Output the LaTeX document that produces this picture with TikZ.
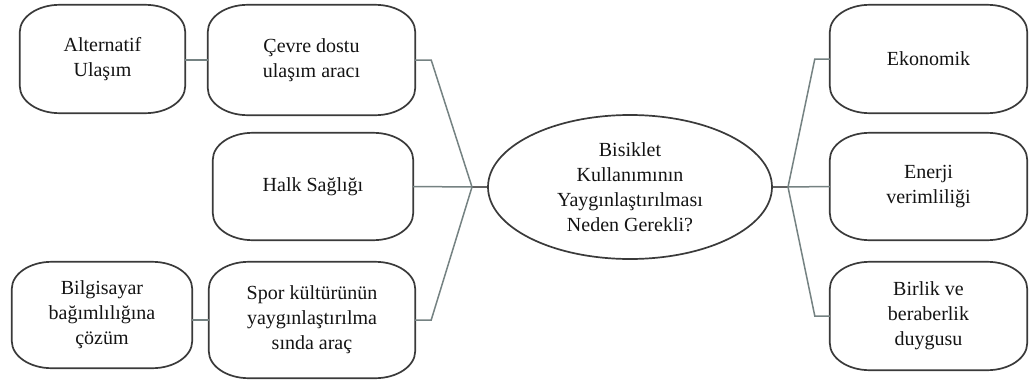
\documentclass[tikz,border=0pt]{standalone}
\usepackage{fontspec}
\setmainfont{Liberation Serif}
\newfontfamily\timesface{Liberation Serif}
\usetikzlibrary{calc,shapes.geometric}
\definecolor{linkgray}{HTML}{758282}
\definecolor{edgegray}{HTML}{3A3A3A}
\tikzset{
  label font/.style={font=\timesface\fontsize{20}{25}\selectfont, text=black!92},
  box/.style={draw=none, inner sep=0pt, align=center, label font},
  boxline/.style={draw=edgegray, line width=1.7pt},
  link/.style={draw=linkgray, line width=1.5pt},
}
% outline with elliptical corners around a named node
\newcommand\softbox[1]{%
  \draw[boxline] ([xshift=40pt]#1.north west) -- ([xshift=-40pt]#1.north east)
    arc[start angle=90, end angle=0, x radius=40pt, y radius=27pt]
    -- ([yshift=27pt]#1.south east)
    arc[start angle=0, end angle=-90, x radius=40pt, y radius=27pt]
    -- ([xshift=40pt]#1.south west)
    arc[start angle=270, end angle=180, x radius=40pt, y radius=27pt]
    -- ([yshift=-27pt]#1.north west)
    arc[start angle=180, end angle=90, x radius=40pt, y radius=27pt] -- cycle;}
\begin{document}
\begin{tikzpicture}[x=1pt, y=-1pt]
\useasboundingbox[fill=white] (0,0) rectangle (1031,383);

% left column
\node[box, minimum width=165pt, minimum height=108pt] (alt) at (102.5,59) {Alternatif\\Ulaşım};
\node[box, minimum width=207pt, minimum height=110pt] (cevre) at (311.5,60) {Çevre dostu\\ulaşım aracı};
\node[box, minimum width=200pt, minimum height=107pt] (halk) at (313,186.5) {Halk Sağlığı};
\node[box, minimum width=180pt, minimum height=106pt] (bilg) at (102,315) {Bilgisayar\\bağımlılığına\\çözüm};
\node[box, minimum width=206pt, minimum height=116pt] (spor) at (312,320) {Spor kültürünün\\yaygınlaştırılma\\sında araç};

% centre
\node[ellipse, draw=edgegray, line width=1.7pt, minimum width=284pt, minimum height=144pt,
      inner sep=0pt, align=center, label font]
      (mid) at (630,187) {Bisiklet\\Kullanımının\\Yaygınlaştırılması\\Neden Gerekli?};

% right column
\node[box, minimum width=197pt, minimum height=108pt] (eko) at (928.5,59) {Ekonomik};
\node[box, minimum width=197pt, minimum height=107pt] (ener) at (928.5,186.5) {Enerji\\verimliliği};
\node[box, minimum width=197pt, minimum height=108pt] (birl) at (928.5,316) {Birlik ve\\beraberlik\\duygusu};

\foreach \b in {alt,cevre,halk,bilg,spor,eko,ener,birl} {\softbox{\b}}

% branch points
\coordinate (jl) at (472,187);
\coordinate (jr) at (788,187);

% connectors
\draw[link] (alt.east |- cevre.west) -- (cevre.west);
\draw[link] (bilg.east |- spor.west) -- (spor.west);
\draw[link, draw=edgegray!80] (mid.west) -- (jl);
\draw[link] (jl) -- ($(cevre.east)+(16,0)$) -- (cevre.east);
\draw[link] (jl) -- (halk.east);
\draw[link] (jl) -- ($(spor.east)+(16,0)$) -- (spor.east);
\draw[link, draw=edgegray!80] (mid.east) -- (jr);
\draw[link] (jr) -- ($(eko.west)+(-15,0)$) -- (eko.west);
\draw[link] (jr) -- (ener.west);
\draw[link] (jr) -- ($(birl.west)+(-15,0)$) -- (birl.west);
\end{tikzpicture}
\end{document}
